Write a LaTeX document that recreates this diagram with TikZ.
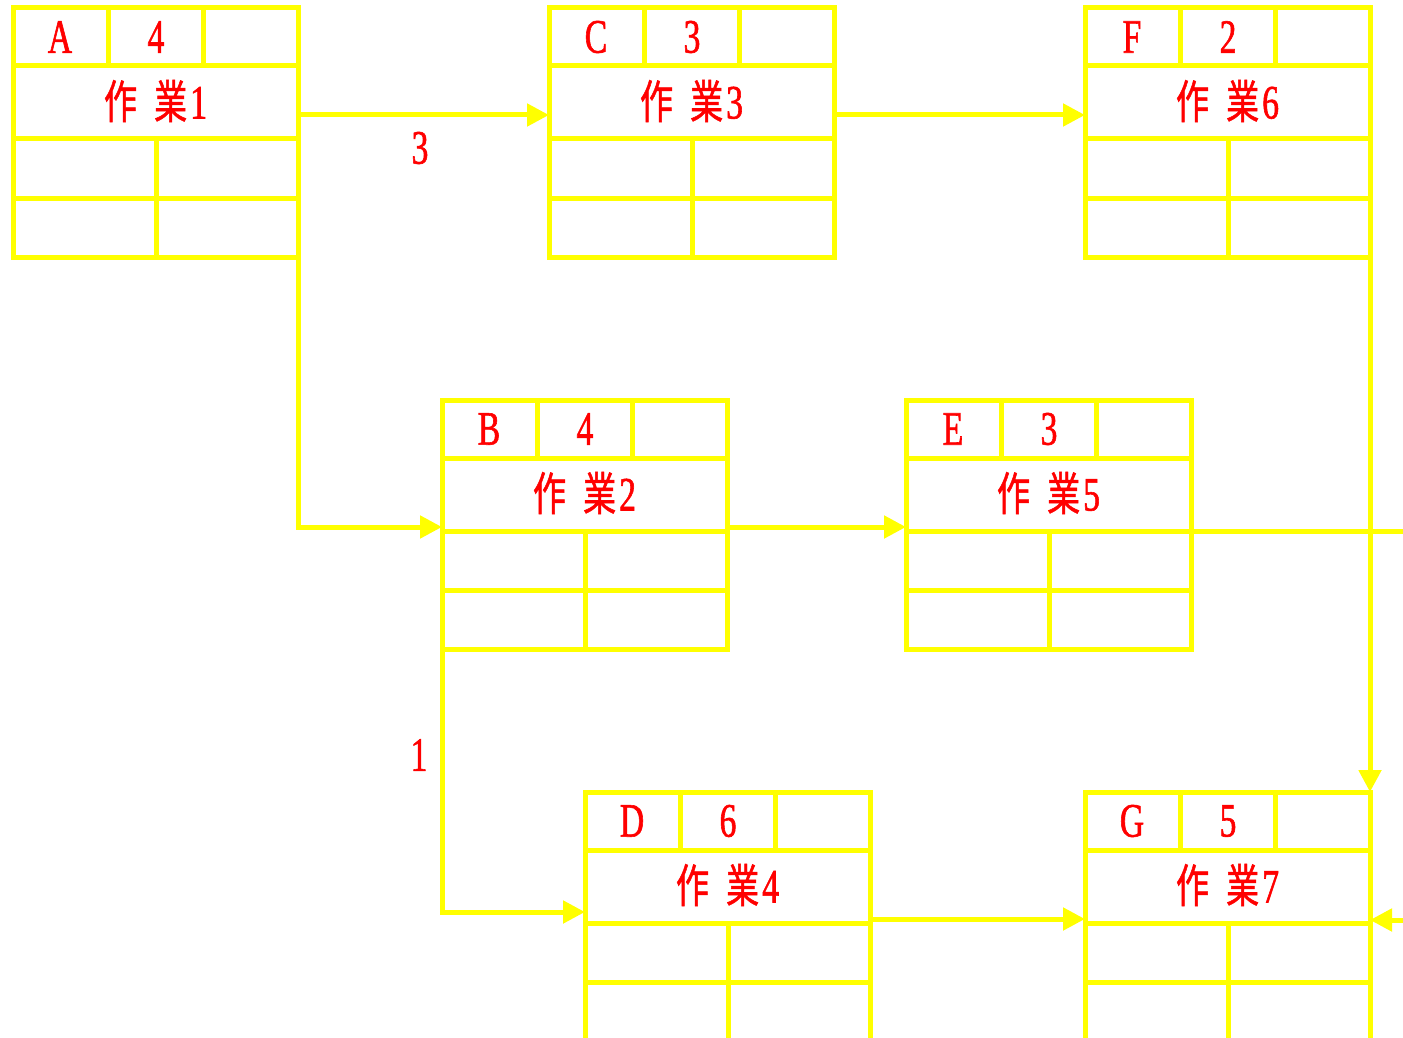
\documentclass[tikz,border=0pt]{standalone}
\usepackage{fontspec}
\setmainfont[FakeStretch=0.7,FakeBold=1.2]{Liberation Serif}
\newfontfamily\cjkf[FakeStretch=0.72,FakeBold=1]{Noto Sans CJK JP}
\usetikzlibrary{arrows.meta}
\definecolor{yel}{RGB}{255,255,0}
\definecolor{rd}{RGB}{255,0,0}
\newcommand\wkn[1]{{\fontsize{46}{46}\selectfont\cjkf 作\kern17pt業}\kern3pt#1}
\tikzset{
 ln/.style={draw=yel, line width=5pt},
 boxst/.style={ln, rectangle, minimum width=285pt, minimum height=249pt, inner sep=0pt, outer sep=0pt, anchor=north west},
 txt/.style={text=rd, font=\fontsize{48}{48}\selectfont, inner sep=0pt},
 arr/.style={ln, -{Triangle[length=22pt,width=22pt]}},
}
\newcommand\actbox[6]{%
\node[boxst] (#1) at (#2,#3) {};
\draw[ln] ([yshift=-58pt]#1.north west) -- ([yshift=-58pt]#1.north east);
\draw[ln] ([yshift=-131pt]#1.north west) -- ([yshift=-131pt]#1.north east);
\draw[ln] ([yshift=-190pt]#1.north west) -- ([yshift=-190pt]#1.north east);
\draw[ln] ([xshift=95pt]#1.north west) -- ([xshift=95pt,yshift=-58pt]#1.north west);
\draw[ln] ([xshift=190pt]#1.north west) -- ([xshift=190pt,yshift=-58pt]#1.north west);
\draw[ln] ([xshift=143pt,yshift=-131pt]#1.north west) -- ([xshift=143pt]#1.south west);
\node[txt] (#1-l) at ([xshift=47pt,yshift=-29pt]#1.north west) {#4};
\node[txt] (#1-n) at ([xshift=143pt,yshift=-29pt]#1.north west) {#5};
\node[txt] (#1-t) at ([xshift=142.5pt,yshift=-93pt]#1.north west) {\wkn{#6}};
}
\begin{document}
\begin{tikzpicture}[x=1pt,y=-1pt]
\useasboundingbox (0,0) rectangle (1403,1038);
\fill[white] (0,0) rectangle (1403,1038);
\clip (0,0) rectangle (1403,1038);
\actbox{A}{13}{8}{A}{4}{1}
\actbox{C}{549}{8}{C}{3}{3}
\actbox{F}{1085}{8}{F}{2}{6}
\actbox{B}{442}{400}{B}{4}{2}
\actbox{E}{906}{400}{E}{3}{5}
\actbox{D}{585}{792}{D}{6}{4}
\actbox{G}{1085}{792}{G}{5}{7}
\coordinate (eo) at (1430,531);
\draw[arr] ([yshift=-107pt]A.north east) -- ([yshift=-107pt]C.north west);
\draw[arr] ([yshift=-107pt]C.north east) -- ([yshift=-107pt]F.north west);
\draw[arr] (A.south east) |- ([yshift=-127pt]B.north west);
\draw[arr] ([yshift=-127pt]B.north east) -- ([yshift=-127pt]E.north west);
\draw[arr] (B.south west) |- ([yshift=-120pt]D.north west);
\draw[arr] ([yshift=-127pt]D.north east) -- ([yshift=-127pt]G.north west);
\draw[arr] (F.south east) -- (G.north east);
\draw[arr] ([yshift=-131pt]E.north east) -- (eo) |- ([yshift=-128pt]G.north east);
\node[txt] (l3) at (420,148) {3};
\node[txt] (l1) at (419,755) {1};
\end{tikzpicture}
\end{document}
